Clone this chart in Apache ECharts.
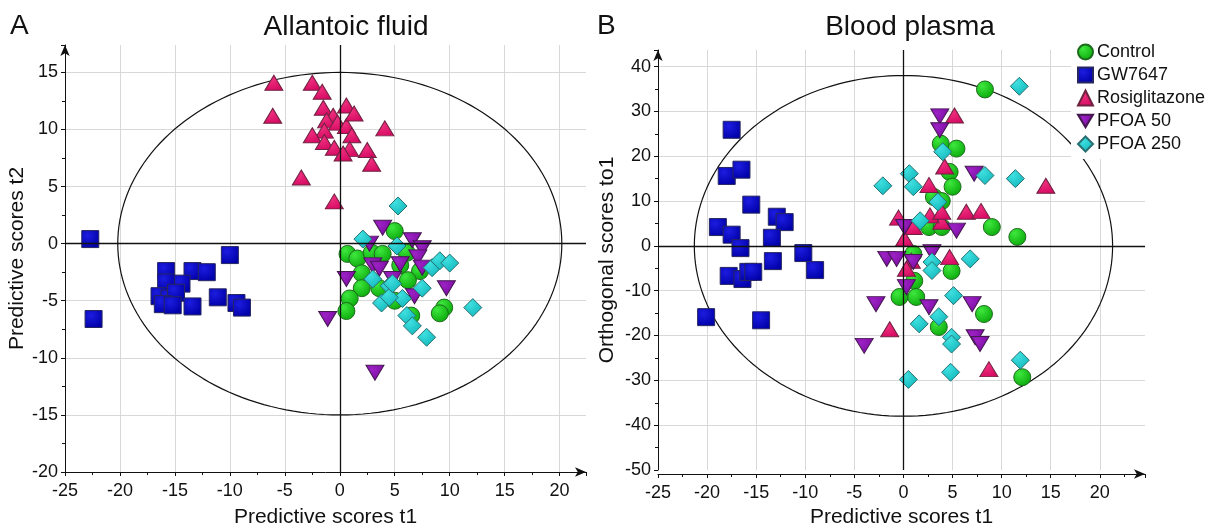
<!DOCTYPE html>
<html>
<head>
<meta charset="utf-8">
<script src="https://cdn.jsdelivr.net/npm/echarts@6.0.0/dist/echarts.min.js"></script>
<style>
  html, body { margin: 0; padding: 0; background: #fff; }
  #chart { width: 1212px; height: 529px; }
</style>
</head>
<body>
<div id="chart"></div>
<script>
// ---- data: [t1, t2/to1] score pairs ----
const groups = ["Control", "GW7647", "Rosiglitazone", "PFOA 50", "PFOA 250"];

// A: Allantoic fluid
const afControl = [[5.0,1.1],[0.7,-0.9],[1.6,-1.3],[2.9,-0.8],[3.9,-0.9],[6.1,-0.8],[5.5,-1.9],[2.0,-2.6],[7.3,-2.4],[6.2,-3.2],[2.0,-3.9],[3.6,-3.9],[0.9,-4.8],[0.6,-5.9],[5.0,-5.0],[6.5,-6.3],[9.5,-5.6],[9.1,-6.1]];
const afGW7647 = [[-22.7,0.4],[-22.4,-6.6],[-10.0,-1.0],[-15.8,-2.4],[-13.4,-2.4],[-12.1,-2.5],[-14.4,-3.5],[-15.8,-3.4],[-16.4,-4.6],[-15.5,-4.8],[-14.9,-4.3],[-16.1,-5.3],[-15.2,-5.4],[-13.4,-5.5],[-11.1,-4.7],[-9.4,-5.2],[-8.9,-5.6]];
const afRosi = [[-6.0,14.1],[-2.5,14.1],[-1.6,13.3],[-6.1,11.2],[-1.5,11.9],[0.6,12.1],[-0.6,11.2],[-1.2,10.8],[-0.2,10.6],[0.6,10.3],[-1.4,9.9],[-2.5,9.5],[1.1,9.5],[-1.4,8.9],[-0.5,8.4],[0.9,8.3],[0.3,7.9],[-3.5,5.8],[-0.5,3.7],[4.1,10.1],[2.5,8.2],[2.9,7.0],[1.3,11.4]];
const afPfoa50 = [[3.9,1.4],[2.7,0.0],[6.6,0.3],[7.5,-0.4],[5.5,-1.8],[7.1,-1.2],[7.5,-2.1],[3.0,-1.9],[3.6,-2.2],[0.6,-3.1],[4.8,-3.1],[6.8,-4.6],[9.7,-3.9],[-1.1,-6.6],[3.2,-11.3]];
const afPfoa250 = [[5.3,3.3],[2.1,0.4],[5.2,-0.2],[8.4,-2.1],[9.1,-1.5],[10.0,-1.7],[3.0,-3.1],[4.5,-3.7],[7.5,-3.9],[3.8,-5.2],[5.7,-4.8],[4.5,-4.7],[6.1,-6.3],[6.6,-7.2],[12.1,-5.6],[7.9,-8.2],[4.8,-3.5]];

// B: Blood plasma
const bpControl = [[8.3,34.9],[3.8,22.8],[5.4,21.7],[4.7,16.5],[5.0,13.2],[3.1,10.9],[3.9,10.0],[2.6,4.2],[3.9,4.2],[9.0,4.2],[11.6,2.0],[1.0,-1.8],[1.1,-7.8],[-0.4,-11.4],[1.3,-11.4],[4.9,-5.6],[8.2,-15.2],[3.6,-18.1],[12.1,-29.3],[9.0,-50.3]];
const bpGW7647 = [[-17.5,25.9],[-18.0,15.6],[-16.5,17.0],[-15.5,9.2],[-18.9,4.2],[-17.5,2.5],[-16.6,-0.5],[-12.9,6.5],[-12.1,5.3],[-13.4,1.8],[-13.3,-3.4],[-10.2,-1.6],[-9.0,-5.4],[-17.8,-6.7],[-16.4,-7.4],[-15.8,-5.8],[-15.3,-5.8],[-20.1,-15.9],[-14.5,-16.6]];
const bpRosi = [[5.2,29.1],[14.5,13.4],[2.6,13.6],[4.2,17.7],[6.4,7.6],[7.9,7.8],[-0.5,6.3],[3.9,5.4],[2.7,6.8],[1.0,4.2],[0.1,1.6],[3.9,7.6],[0.8,-3.3],[0.3,-5.1],[4.7,-2.5],[-1.4,-18.6],[8.7,-27.5]];
const bpPfoa50 = [[3.7,28.9],[3.7,25.8],[7.2,16.1],[0.1,4.2],[5.4,3.4],[-1.7,-2.9],[-0.7,-2.9],[1.0,-3.6],[2.9,-1.4],[0.3,-9.2],[-2.8,-13.0],[2.6,-13.7],[7.0,-13.0],[7.3,-20.4],[7.8,-21.9],[-4.0,-22.3]];
const bpPfoa250 = [[11.8,35.6],[4.0,21.0],[0.6,16.1],[-2.1,13.4],[1.0,13.2],[8.3,15.7],[3.5,9.8],[1.7,5.6],[11.4,15.0],[2.9,-3.6],[2.9,-5.5],[6.8,-2.9],[5.1,-11.1],[1.6,-17.4],[3.6,-15.8],[4.9,-20.4],[4.9,-21.9],[4.8,-28.2],[0.5,-29.8],[11.9,-25.5]];

// Hotelling ellipse radii (t1, t2/to1)
const afEllipse = [20.2, 15];
const bpEllipse = [21.3, 38];

// axis extents and tick steps
const afX = [-25, 22.4, 5], afY = [-20, 17.4, 5];
const bpX = [-25, 24.6, 5], bpY = [-50, 43.7, 10];

const FONT = '"Liberation Sans", Arial, sans-serif';

function grad(light, dark) {
  return new echarts.graphic.RadialGradient(0.35, 0.3, 0.75, [
    { offset: 0, color: light }, { offset: 1, color: dark }
  ]);
}
const styles = {
  "Control":       { symbol: 'circle',  size: 17, color: grad('#3ee83e', '#0aa80a'), border: '#1d6b1d' },
  "GW7647":        { symbol: 'rect',    size: 17, color: grad('#1c1ce0', '#0000a8'), border: '#272760' },
  "Rosiglitazone": { symbol: 'triangle', size: [18, 15], color: grad('#f0307f', '#d50a62'), border: '#6e2340' },
  "PFOA 50":       { symbol: 'path://M0,0 L10,0 L5,8.5 Z', size: [18, 15], color: grad('#9c22c4', '#7a0aa2'), border: '#45184f' },
  "PFOA 250":      { symbol: 'diamond', size: 18, color: grad('#40e0e0', '#12b8bc'), border: '#2a7072' }
};

function ellipse(r) {
  const pts = [];
  for (let i = 0; i <= 180; i++) {
    const a = i / 180 * Math.PI * 2;
    pts.push([r[0] * Math.cos(a), r[1] * Math.sin(a)]);
  }
  return pts;
}

function scatter(name, data, idx) {
  const s = styles[name];
  return {
    name: name, type: 'scatter', xAxisIndex: idx, yAxisIndex: idx,
    data: data, symbol: s.symbol, symbolSize: s.size,
    itemStyle: { color: s.color, borderColor: s.border, borderWidth: 1, opacity: 1 },
    emphasis: { disabled: true }, z: 3
  };
}

function xAxis(idx, ext, name, offset, gap) {
  return {
    gridIndex: idx, type: 'value', min: ext[0], max: ext[1], interval: ext[2],
    name: name, nameLocation: 'middle', nameGap: gap,
    nameTextStyle: { fontFamily: FONT, fontSize: 21, color: '#111' },
    offset: offset,
    axisLine: { show: true, onZero: false, symbol: ['none', 'arrow'], symbolSize: [7, 11], lineStyle: { color: '#111', width: 1 } },
    axisTick: { show: true, length: 4, lineStyle: { color: '#111' } },
    minorTick: { show: true, splitNumber: 2, length: 3, lineStyle: { color: '#111' } },
    axisLabel: { fontFamily: FONT, fontSize: 18, color: '#111', margin: 10, showMaxLabel: false },
    splitLine: { show: true, showMaxLine: false, showMinLine: false, lineStyle: { color: '#d8d8d8', width: 1 } }
  };
}
function yAxis(idx, ext, name, gap) {
  return {
    gridIndex: idx, type: 'value', min: ext[0], max: ext[1], interval: ext[2],
    name: name, nameLocation: 'middle', nameGap: gap,
    nameTextStyle: { fontFamily: FONT, fontSize: 21, color: '#111' },
    axisLine: { show: true, onZero: false, symbol: ['none', 'arrow'], symbolSize: [7, 11], lineStyle: { color: '#111', width: 1 } },
    axisTick: { show: true, length: 4, lineStyle: { color: '#111' } },
    minorTick: { show: true, splitNumber: 2, length: 3, lineStyle: { color: '#111' } },
    axisLabel: { fontFamily: FONT, fontSize: 18, color: '#111', margin: 7, showMaxLabel: false },
    splitLine: { show: true, showMaxLine: false, showMinLine: false, lineStyle: { color: '#d8d8d8', width: 1 } }
  };
}

function frame(idx, r) {
  return {
    name: 'ellipse' + idx, type: 'line', xAxisIndex: idx, yAxisIndex: idx,
    data: ellipse(r), showSymbol: false, symbol: 'none', silent: true, z: 2,
    lineStyle: { color: '#111', width: 1.2 },
    markLine: {
      silent: true, symbol: 'none', label: { show: false },
      lineStyle: { color: '#111', width: 1.3, type: 'solid' },
      data: [{ xAxis: 0 }, { yAxis: 0 }]
    }
  };
}

const chart = echarts.init(document.getElementById('chart'), null, { renderer: 'canvas' });
chart.setOption({
  animation: false,
  backgroundColor: '#fff',
  textStyle: { fontFamily: FONT },
  graphic: [
    { type: 'text', left: 10, top: 12, style: { text: 'A', fontFamily: FONT, fontSize: 28, fill: '#111' } },
    { type: 'text', left: 597, top: 12, style: { text: 'B', fontFamily: FONT, fontSize: 28, fill: '#111' } },
    { type: 'text', x: 346, y: 27, style: { text: 'Allantoic fluid', fontFamily: FONT, fontSize: 28, fill: '#111', align: 'center', verticalAlign: 'middle' } },
    { type: 'text', x: 910, y: 27, style: { text: 'Blood plasma', fontFamily: FONT, fontSize: 28, fill: '#111', align: 'center', verticalAlign: 'middle' } }
  ],
  grid: [
    { left: 65, right: 626, top: 45, bottom: 57, outerBoundsMode: 'none', containLabel: false },
    { left: 658, right: 67, top: 50, bottom: 59, outerBoundsMode: 'none', containLabel: false }
  ],
  xAxis: [
    xAxis(0, afX, 'Predictive scores t1', 0, 35),
    xAxis(1, bpX, 'Predictive scores t1', 4, 33)
  ],
  yAxis: [
    yAxis(0, afY, 'Predictive scores t2', 34),
    yAxis(1, bpY, 'Orthogonal scores to1', 40)
  ],
  legend: {
    data: groups.map(g => ({ name: g, icon: styles[g].symbol })),
    orient: 'vertical', left: 1071, top: 40,
    itemWidth: 15, itemHeight: 15, itemGap: 5,
    backgroundColor: '#fff', padding: [3, 4, 6, 6],
    textStyle: { fontFamily: FONT, fontSize: 18, color: '#111', padding: [0, 0, 0, -1] },
    selectedMode: false
  },
  series: [
    frame(0, afEllipse),
    scatter('Control', afControl, 0),
    scatter('GW7647', afGW7647, 0),
    scatter('Rosiglitazone', afRosi, 0),
    scatter('PFOA 50', afPfoa50, 0),
    scatter('PFOA 250', afPfoa250, 0),
    frame(1, bpEllipse),
    scatter('Control', bpControl, 1),
    scatter('GW7647', bpGW7647, 1),
    scatter('Rosiglitazone', bpRosi, 1),
    scatter('PFOA 50', bpPfoa50, 1),
    scatter('PFOA 250', bpPfoa250, 1)
  ]
});
</script>
</body>
</html>
